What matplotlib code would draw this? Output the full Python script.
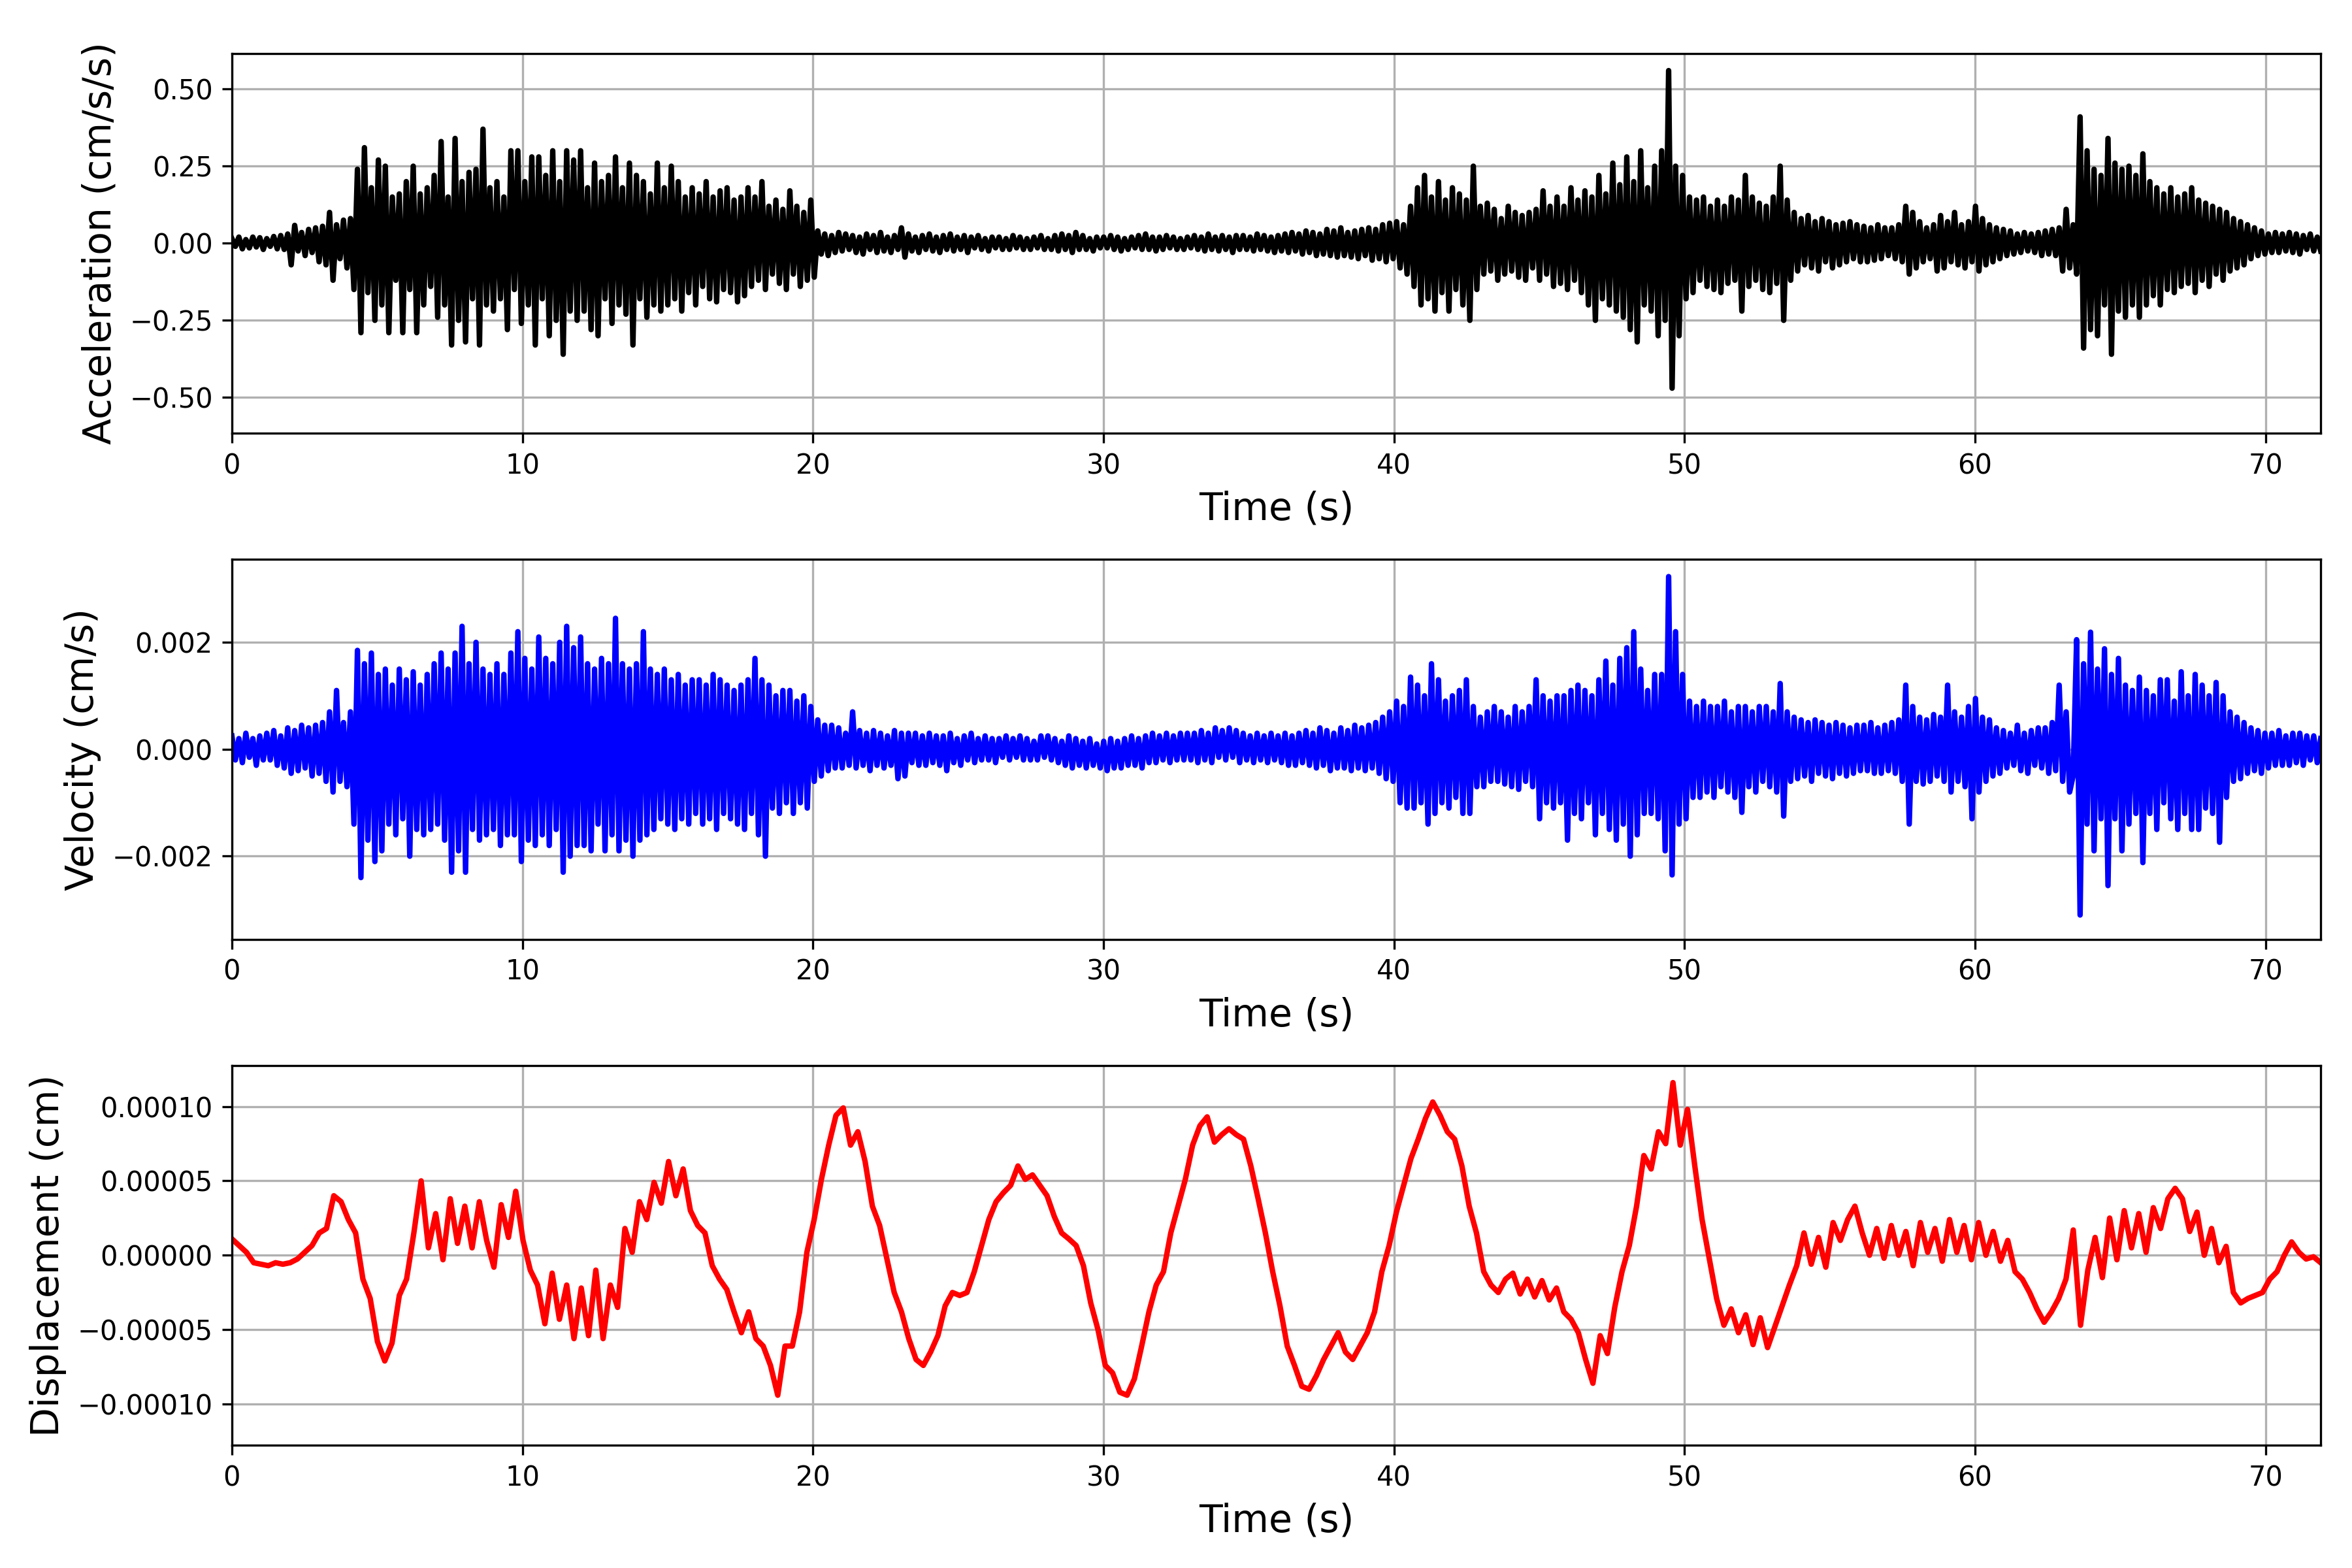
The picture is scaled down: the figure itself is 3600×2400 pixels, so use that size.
import numpy as np
import matplotlib
matplotlib.use('Agg')
import matplotlib.pyplot as plt

# Zeitreihen (Spitzenwerte, abwechselnd +/-)
t_end = 71.9

# Beschleunigung in cm/s/s, 25 Werte je 3 s
acc = [
    0.015, -0.010, 0.020, -0.018, 0.012, -0.015, 0.020, -0.012, 0.018, -0.020,
    0.015, -0.010, 0.022, -0.018, 0.025, -0.020, 0.030, -0.070, 0.058, -0.025,
    0.035, -0.040, 0.045, -0.030, 0.050,
    -0.060, 0.055, -0.070, 0.100, -0.120, 0.060, -0.050, 0.075, -0.080, 0.080,
    -0.150, 0.240, -0.290, 0.310, -0.160, 0.180, -0.250, 0.270, -0.200, 0.250,
    -0.290, 0.150, -0.120, 0.160, -0.290,
    0.200, -0.150, 0.250, -0.290, 0.160, -0.200, 0.180, -0.140, 0.220, -0.240,
    0.330, -0.200, 0.150, -0.330, 0.340, -0.250, 0.200, -0.320, 0.230, -0.180,
    0.240, -0.330, 0.370, -0.200, 0.180,
    -0.220, 0.200, -0.180, 0.150, -0.280, 0.300, -0.150, 0.300, -0.260, 0.200,
    -0.200, 0.280, -0.330, 0.280, -0.180, 0.220, -0.300, 0.300, -0.250, 0.200,
    -0.360, 0.300, -0.220, 0.270, -0.250,
    0.300, -0.220, 0.180, -0.280, 0.260, -0.300, 0.200, -0.180, 0.220, -0.260,
    0.280, -0.200, 0.180, -0.230, 0.260, -0.330, 0.220, -0.180, 0.200, -0.240,
    0.160, -0.200, 0.260, -0.220, 0.180,
    -0.200, 0.250, -0.180, 0.200, -0.220, 0.150, -0.160, 0.180, -0.200, 0.160,
    -0.140, 0.200, -0.180, 0.150, -0.190, 0.170, -0.150, 0.180, -0.160, 0.140,
    -0.190, 0.150, -0.170, 0.180, -0.140,
    0.150, -0.120, 0.200, -0.150, 0.120, -0.100, 0.140, -0.130, 0.110, -0.150,
    0.170, -0.100, 0.120, -0.140, 0.100, -0.120, 0.140, -0.110, 0.040, -0.035,
    0.030, -0.040, 0.025, -0.030, 0.035,
    -0.025, 0.030, -0.020, 0.025, -0.030, 0.020, -0.035, 0.030, -0.020, 0.025,
    -0.030, 0.035, -0.025, 0.020, -0.030, 0.025, -0.020, 0.050, -0.045, 0.030,
    -0.025, 0.020, -0.030, 0.025, -0.020,
    0.030, -0.025, 0.020, -0.030, 0.025, -0.020, 0.030, -0.025, 0.020, -0.020,
    0.025, -0.030, 0.020, -0.015, 0.025, -0.020, 0.015, -0.025, 0.020, -0.015,
    0.020, -0.020, 0.015, -0.020, 0.025,
    -0.015, 0.020, -0.020, 0.015, -0.020, 0.020, -0.015, 0.025, -0.020, 0.015,
    -0.020, 0.025, -0.025, 0.030, -0.020, 0.025, -0.030, 0.035, -0.020, 0.025,
    -0.020, 0.015, -0.025, 0.020, -0.015,
    0.020, -0.015, 0.025, -0.020, 0.020, -0.025, 0.015, -0.020, 0.020, -0.015,
    0.025, -0.020, 0.030, -0.020, 0.020, -0.025, 0.020, -0.020, 0.025, -0.015,
    0.020, -0.020, 0.015, -0.020, 0.020,
    -0.015, 0.025, -0.020, 0.020, -0.025, 0.030, -0.020, 0.020, -0.025, 0.025,
    -0.020, 0.020, -0.030, 0.025, -0.020, 0.025, -0.020, 0.020, -0.025, 0.030,
    -0.020, 0.025, -0.025, 0.020, -0.030,
    0.025, -0.025, 0.030, -0.030, 0.035, -0.025, 0.030, -0.035, 0.040, -0.030,
    0.035, -0.040, 0.030, -0.035, 0.045, -0.040, 0.040, -0.045, 0.050, -0.040,
    0.035, -0.045, 0.040, -0.050, 0.045,
    -0.040, 0.050, -0.055, 0.045, -0.050, 0.060, -0.060, 0.065, -0.050, 0.070,
    -0.080, 0.060, -0.100, 0.120, -0.140, 0.180, -0.200, 0.220, -0.180, 0.150,
    -0.220, 0.200, -0.160, 0.140, -0.220,
    0.180, -0.150, 0.160, -0.200, 0.140, -0.250, 0.250, -0.150, 0.120, -0.100,
    0.130, -0.090, 0.110, -0.120, 0.080, -0.100, 0.120, -0.090, 0.100, -0.110,
    0.090, -0.120, 0.100, -0.080, 0.110,
    -0.120, 0.170, -0.100, 0.120, -0.140, 0.150, -0.130, 0.120, -0.150, 0.180,
    -0.120, 0.140, -0.160, 0.170, -0.200, 0.150, -0.250, 0.220, -0.180, 0.160,
    -0.200, 0.260, -0.220, 0.190, -0.240,
    0.280, -0.280, 0.200, -0.320, 0.300, -0.200, 0.180, -0.220, 0.250, -0.300,
    0.300, -0.250, 0.560, -0.470, 0.250, -0.300, 0.220, -0.180, 0.150, -0.160,
    0.140, -0.120, 0.150, -0.140, 0.120,
    -0.150, 0.140, -0.160, 0.120, -0.130, 0.150, -0.120, 0.140, -0.220, 0.220,
    -0.140, 0.150, -0.120, 0.130, -0.150, 0.120, -0.160, 0.150, -0.130, 0.250,
    -0.250, 0.140, -0.120, 0.100, -0.090,
    0.080, -0.070, 0.090, -0.080, 0.070, -0.090, 0.080, -0.060, 0.070, -0.080,
    0.060, -0.070, 0.065, -0.060, 0.070, -0.050, 0.060, -0.060, 0.055, -0.060,
    0.050, -0.055, 0.060, -0.050, 0.050,
    -0.040, 0.050, -0.050, 0.060, -0.060, 0.120, -0.100, 0.100, -0.080, 0.070,
    -0.060, 0.050, -0.050, 0.060, -0.090, 0.090, -0.080, 0.070, -0.060, 0.100,
    -0.070, 0.060, -0.080, 0.070, -0.060,
    0.120, -0.090, 0.080, -0.070, 0.060, -0.060, 0.050, -0.050, 0.045, -0.040,
    0.040, -0.035, 0.030, -0.030, 0.035, -0.025, 0.030, -0.030, 0.035, -0.040,
    0.040, -0.035, 0.045, -0.040, 0.050,
    -0.090, 0.110, -0.080, 0.060, -0.100, 0.410, -0.340, 0.300, -0.280, 0.240,
    -0.300, 0.220, -0.200, 0.340, -0.360, 0.260, -0.220, 0.240, -0.240, 0.250,
    -0.200, 0.220, -0.240, 0.290, -0.200,
    0.200, -0.170, 0.180, -0.200, 0.160, -0.150, 0.180, -0.160, 0.150, -0.140,
    0.160, -0.130, 0.180, -0.160, 0.140, -0.120, 0.130, -0.140, 0.120, -0.100,
    0.110, -0.120, 0.100, -0.090, 0.080,
    -0.080, 0.070, -0.070, 0.060, -0.050, 0.050, -0.040, 0.040, -0.035, 0.030,
    -0.030, 0.035, -0.030, 0.030, -0.025, 0.035, -0.030, 0.030, -0.035, 0.025,
    -0.020, 0.030, -0.025, 0.020, -0.025,
]

# Geschwindigkeit in 1e-3 cm/s, 25 Werte je 3 s
vel_e3 = [
    0.25, -0.20, 0.20, -0.25, 0.30, -0.15, 0.20, -0.30, 0.25, -0.20,
    0.30, -0.20, 0.35, -0.30, 0.25, -0.35, 0.40, -0.45, 0.35, -0.40,
    0.45, -0.35, 0.40, -0.50, 0.45,
    -0.45, 0.50, -0.60, 0.70, -0.80, 1.10, -0.60, 0.50, -0.70, 0.70,
    -1.40, 1.85, -2.40, 1.60, -1.70, 1.80, -2.10, 1.40, -1.90, 1.50,
    -1.40, 1.20, -1.60, 1.50, -1.30,
    1.30, -2.00, 1.45, -1.50, 1.20, -1.60, 1.40, -1.50, 1.60, -1.40,
    1.80, -1.70, 1.50, -2.30, 1.80, -1.90, 2.30, -2.30, 1.60, -1.50,
    2.00, -1.70, 1.50, -1.60, 1.40,
    -1.50, 1.60, -1.80, 1.40, -1.60, 1.80, -1.60, 2.20, -2.10, 1.70,
    -1.70, 1.50, -1.80, 2.10, -1.60, 1.70, -1.80, 1.60, -1.50, 2.00,
    -2.30, 2.30, -2.00, 1.90, -1.80,
    2.10, -1.80, 1.60, -1.90, 1.50, -1.40, 1.70, -1.90, 1.60, -1.60,
    2.45, -1.90, 1.60, -1.70, 1.50, -2.00, 1.60, -1.70, 2.20, -1.60,
    1.50, -1.50, 1.40, -1.30, 1.50,
    -1.40, 1.30, -1.50, 1.40, -1.30, 1.20, -1.40, 1.30, -1.20, 1.30,
    -1.40, 1.20, -1.30, 1.40, -1.50, 1.30, -1.20, 1.20, -1.30, 1.10,
    -1.40, 1.20, -1.50, 1.30, -1.20,
    1.70, -1.60, 1.30, -2.00, 1.20, -1.10, 1.00, -1.20, 1.10, -1.00,
    1.10, -1.20, 0.90, -1.00, 1.00, -1.10, 0.80, -0.60, 0.55, -0.50,
    0.45, -0.40, 0.45, -0.35, 0.40,
    -0.35, 0.30, -0.30, 0.70, -0.35, 0.35, -0.30, 0.30, -0.40, 0.35,
    -0.30, 0.30, -0.35, 0.25, -0.30, 0.35, -0.55, 0.30, -0.50, 0.30,
    -0.25, 0.30, -0.30, 0.25, -0.30,
    0.30, -0.25, 0.25, -0.30, 0.25, -0.40, 0.30, -0.25, 0.20, -0.30,
    0.25, -0.20, 0.30, -0.25, 0.20, -0.20, 0.25, -0.20, 0.20, -0.25,
    0.20, -0.15, 0.25, -0.20, 0.20,
    -0.15, 0.25, -0.20, 0.20, -0.20, 0.15, -0.20, 0.25, -0.15, 0.25,
    -0.20, 0.20, -0.25, 0.15, -0.30, 0.25, -0.35, 0.20, -0.30, 0.15,
    -0.35, 0.20, -0.30, 0.10, -0.35,
    0.15, -0.40, 0.20, -0.35, 0.15, -0.35, 0.20, -0.30, 0.25, -0.30,
    0.20, -0.35, 0.25, -0.25, 0.30, -0.25, 0.25, -0.20, 0.30, -0.25,
    0.25, -0.20, 0.30, -0.20, 0.30,
    -0.20, 0.30, -0.25, 0.35, -0.20, 0.30, -0.25, 0.40, -0.15, 0.35,
    -0.20, 0.40, -0.15, 0.35, -0.25, 0.30, -0.20, 0.25, -0.25, 0.30,
    -0.20, 0.25, -0.25, 0.30, -0.20,
    0.25, -0.25, 0.30, -0.30, 0.25, -0.30, 0.30, -0.25, 0.35, -0.30,
    0.30, -0.35, 0.40, -0.30, 0.35, -0.40, 0.30, -0.35, 0.40, -0.35,
    0.35, -0.40, 0.45, -0.35, 0.40,
    -0.40, 0.45, -0.35, 0.50, -0.45, 0.60, -0.55, 0.70, -0.60, 0.90,
    -1.00, 0.80, -1.10, 1.35, -1.10, 1.20, -1.00, 1.00, -1.40, 1.60,
    -1.20, 1.30, -1.00, 0.90, -1.10,
    1.00, -0.90, 1.10, -1.20, 1.30, -1.20, 0.80, -0.70, 0.60, -0.70,
    0.70, -0.60, 0.80, -0.60, 0.70, -0.65, 0.60, -0.70, 0.80, -0.75,
    0.70, -0.60, 0.80, -0.70, 1.30,
    -1.30, 1.00, -1.00, 0.90, -1.10, 1.00, -1.00, 1.00, -1.70, 1.10,
    -1.20, 1.20, -1.30, 1.10, -1.00, 1.00, -1.60, 1.30, -1.20, 1.65,
    -1.50, 1.20, -1.70, 1.70, -1.40,
    1.90, -2.00, 2.20, -1.60, 1.50, -1.20, 1.10, -1.20, 1.40, -1.30,
    1.40, -1.90, 3.23, -2.35, 2.20, -1.40, 1.40, -1.30, 0.90, -0.90,
    0.80, -0.90, 0.90, -0.80, 0.80,
    -0.90, 0.80, -0.70, 0.90, -0.80, 0.70, -0.90, 0.80, -1.18, 0.80,
    -0.70, 0.70, -0.80, 0.80, -0.60, 0.80, -0.70, 0.70, -0.80, 1.23,
    -1.25, 0.70, -0.60, 0.60, -0.55,
    0.55, -0.50, 0.50, -0.60, 0.55, -0.45, 0.50, -0.50, 0.45, -0.55,
    0.50, -0.45, 0.45, -0.50, 0.40, -0.45, 0.45, -0.40, 0.45, -0.40,
    0.50, -0.45, 0.40, -0.45, 0.45,
    -0.40, 0.50, -0.45, 0.55, -0.60, 1.20, -1.40, 0.80, -0.60, 0.60,
    -0.65, 0.55, -0.60, 0.65, -0.50, 0.60, -0.60, 1.20, -0.80, 0.70,
    -0.60, 0.60, -0.70, 0.80, -1.30,
    0.95, -0.80, 0.60, -0.60, 0.55, -0.50, 0.40, -0.45, 0.35, -0.35,
    0.30, -0.30, 0.45, -0.40, 0.30, -0.45, 0.35, -0.30, 0.40, -0.35,
    0.40, -0.45, 0.50, -0.40, 1.20,
    -0.60, 0.70, -0.80, -0.50, 2.05, -3.10, 1.60, -1.40, 2.19, -1.90,
    1.50, -1.30, 1.88, -2.55, 1.40, -1.30, 1.70, -1.90, 1.20, -1.40,
    1.10, -1.20, 1.35, -2.12, 1.10,
    -1.20, 1.00, -1.50, 1.30, -1.00, 1.30, -1.30, 0.90, -1.50, 1.45,
    -1.20, 1.00, -1.50, 1.40, -1.50, 1.20, -1.10, 1.00, -1.20, 1.25,
    -1.74, 1.00, -0.90, 0.70, -0.60,
    0.60, -0.55, 0.50, -0.45, 0.40, -0.40, 0.35, -0.45, 0.30, -0.35,
    0.30, -0.30, 0.35, -0.30, 0.25, -0.30, 0.30, -0.25, 0.30, -0.30,
    0.25, -0.20, 0.25, -0.25, 0.20,
]

# Verschiebung in 1e-5 cm, alle 0.25 s
disp_e5 = [
    1.1, 0.65, 0.2, -0.5, -0.6, -0.7, -0.5, -0.6, -0.5, -0.25, 0.2, 0.65, 1.5, 1.8, 4.0, 3.6,
    2.4, 1.5, -1.6, -2.9, -5.8, -7.1, -5.9, -2.7, -1.6, 1.5, 5.0, 0.5, 2.8, -0.3, 3.8, 0.8,
    3.3, 0.5, 3.6, 1.0, -0.8, 3.4, 1.2, 4.3, 1.0, -1.0, -2.0, -4.6, -1.2, -4.3, -2.0, -5.6,
    -2.2, -5.4, -1.0, -5.6, -2.0, -3.5, 1.8, 0.2, 3.6, 2.4, 4.9, 3.5, 6.3, 4.0, 5.8, 3.0,
    2.0, 1.5, -0.7, -1.6, -2.3, -3.8, -5.2, -3.8, -5.6, -6.1, -7.4, -9.4, -6.1, -6.1, -3.8, 0.2,
    2.4, 5.1, 7.4, 9.4, 9.9, 7.4, 8.3, 6.3, 3.3, 2.0, -0.25, -2.5, -3.8, -5.6, -7.0, -7.4,
    -6.5, -5.4, -3.4, -2.5, -2.7, -2.5, -1.1, 0.65, 2.4, 3.6, 4.2, 4.7, 6.0, 5.1, 5.4, 4.7,
    4.0, 2.6, 1.5, 1.1, 0.65, -0.7, -3.2, -5.0, -7.4, -7.9, -9.2, -9.4, -8.3, -6.1, -3.8, -2.0,
    -1.1, 1.5, 3.3, 5.1, 7.4, 8.7, 9.3, 7.6, 8.1, 8.5, 8.1, 7.8, 6.0, 3.8, 1.5, -1.1,
    -3.4, -6.1, -7.4, -8.8, -9.0, -8.1, -7.0, -6.1, -5.2, -6.5, -7.0, -6.1, -5.2, -3.8, -1.1, 0.65,
    2.9, 4.7, 6.5, 7.8, 9.2, 10.3, 9.4, 8.3, 7.8, 6.0, 3.3, 1.5, -1.1, -2.0, -2.5, -1.6,
    -1.2, -2.6, -1.6, -2.8, -1.7, -3.0, -2.2, -3.8, -4.3, -5.2, -7.0, -8.6, -5.4, -6.6, -3.5, -1.1,
    0.65, 3.3, 6.7, 5.8, 8.3, 7.5, 11.6, 7.4, 9.8, 6.0, 2.4, -0.25, -2.9, -4.7, -3.6, -5.2,
    -4.0, -6.0, -4.2, -6.2, -4.8, -3.4, -2.0, -0.7, 1.5, -0.6, 1.2, -0.8, 2.2, 1.0, 2.4, 3.3,
    1.5, 0.0, 1.8, -0.2, 2.0, 0.0, 1.6, -0.7, 2.2, 0.2, 1.8, -0.4, 2.4, 0.2, 2.0, -0.3,
    2.2, 0.0, 1.6, -0.4, 1.0, -1.1, -1.6, -2.5, -3.6, -4.5, -3.8, -2.9, -1.6, 1.7, -4.7, -1.0,
    1.2, -1.5, 2.5, -0.3, 3.0, 0.5, 2.8, 0.2, 3.2, 1.8, 3.8, 4.5, 3.8, 1.6, 2.9, 0.0,
    1.8, -0.5, 0.6, -2.5, -3.2, -2.9, -2.7, -2.5, -1.6, -1.1, 0.0, 0.9, 0.2, -0.25, -0.1, -0.5,
]

acc = np.array(acc)
vel = np.array(vel_e3) * 1e-3
disp = np.array(disp_e5) * 1e-5

t_acc = np.linspace(0, t_end, len(acc))
t_vel = np.linspace(0, t_end, len(vel))
t_disp = np.linspace(0, t_end, len(disp))

fig = plt.figure(figsize=(12, 8))
reihen = [
    (t_acc, acc, 'k', 'Acceleration (cm/s/s)'),
    (t_vel, vel, 'b', 'Velocity (cm/s)'),
    (t_disp, disp, 'r', 'Displacement (cm)'),
]
for i, (t, y, farbe, name) in enumerate(reihen):
    ax = fig.add_subplot(3, 1, i + 1)
    ax.plot(t, y, farbe, linewidth=2)
    ax.set_xlim(0, t_end)
    ymax = 1.1 * np.max(np.abs(y))
    ax.set_ylim(-ymax, ymax)
    ax.set_xlabel('Time (s)', fontsize=14)
    ax.set_ylabel(name, fontsize=14)
    ax.grid(True)

plt.subplots_adjust(left=0.0986, right=0.9867, top=0.966, bottom=0.0783, hspace=0.332)
plt.savefig('out.png', dpi=300)
